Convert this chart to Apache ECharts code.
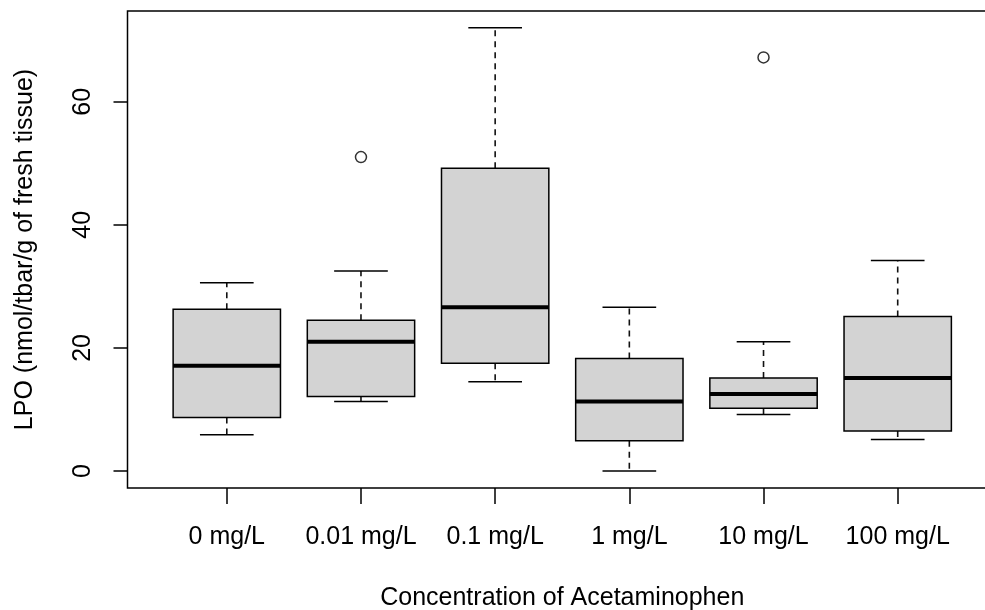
<!DOCTYPE html>
<html>
<head>
<meta charset="utf-8">
<script src="https://cdn.jsdelivr.net/npm/echarts@6/dist/echarts.min.js"></script>
<style>
  html, body { margin: 0; padding: 0; background: #fff; }
  #chart { width: 985px; height: 610px; }
</style>
</head>
<body>
<div id="chart"></div>
<script>
// LPO per acetaminophen concentration
const categories = ['0 mg/L', '0.01 mg/L', '0.1 mg/L', '1 mg/L', '10 mg/L', '100 mg/L'];
const lowerWhisker = [5.9, 11.3, 14.5, 0.0, 9.2, 5.1];
const lowerQuartile = [8.7, 12.1, 17.5, 4.9, 10.2, 6.5];
const medians = [17.1, 21.0, 26.6, 11.3, 12.5, 15.1];
const upperQuartile = [26.3, 24.5, 49.2, 18.3, 15.1, 25.1];
const upperWhisker = [30.6, 32.5, 72.0, 26.6, 21.0, 34.2];
const outlierGroup = [2, 5];
const outlierValue = [51.0, 67.2];
const yTicks = [0, 20, 40, 60];
const xTicks = [1, 2, 3, 4, 5, 6];

const boxData = categories.map((_, i) => [
  i + 1, lowerWhisker[i], lowerQuartile[i], medians[i], upperQuartile[i], upperWhisker[i]
]);
const outlierData = outlierGroup.map((g, i) => [g, outlierValue[i]]);

const FONT = '"Liberation Sans", Arial, sans-serif';
const chart = echarts.init(document.getElementById('chart'));

const renderBox = (params, api) => {
  const x = api.value(0);
  const lo = api.value(1), q1 = api.value(2), med = api.value(3), q3 = api.value(4), hi = api.value(5);
  const c = (v) => api.coord([x, v]);
  const halfBox = api.size([0.4, 0])[0];
  const halfCap = api.size([0.2, 0])[0];
  const pLo = c(lo), pQ1 = c(q1), pMed = c(med), pQ3 = c(q3), pHi = c(hi);
  const cx = pMed[0];
  const dashed = { stroke: '#111', lineWidth: 1.6, lineDash: [6, 5] };
  const solid = { stroke: '#000', lineWidth: 1.5 };
  return {
    type: 'group',
    children: [
      { type: 'line', shape: { x1: cx, y1: pQ3[1], x2: cx, y2: pHi[1] }, style: dashed },
      { type: 'line', shape: { x1: cx, y1: pQ1[1], x2: cx, y2: pLo[1] }, style: dashed },
      { type: 'line', shape: { x1: cx - halfCap, y1: pHi[1], x2: cx + halfCap, y2: pHi[1] }, style: solid },
      { type: 'line', shape: { x1: cx - halfCap, y1: pLo[1], x2: cx + halfCap, y2: pLo[1] }, style: solid },
      {
        type: 'rect',
        shape: { x: cx - halfBox, y: pQ3[1], width: halfBox * 2, height: pQ1[1] - pQ3[1] },
        style: { fill: '#d3d3d3', stroke: '#000', lineWidth: 1.5 }
      },
      { type: 'line', shape: { x1: cx - halfBox, y1: pMed[1], x2: cx + halfBox, y2: pMed[1] }, style: { stroke: '#000', lineWidth: 4 } }
    ]
  };
};

chart.setOption({
  animation: false,
  backgroundColor: '#fff',
  grid: {
    left: 127.5, top: 11, width: 869.5, height: 477,
    outerBoundsMode: 'none',
    containLabel: false,
    show: true, borderColor: '#000', borderWidth: 1.5
  },
  xAxis: {
    type: 'value',
    min: 0.26,
    max: 6.74,
    name: 'Concentration of Acetaminophen',
    nameLocation: 'middle',
    nameGap: 98,
    nameTextStyle: { color: '#000', fontSize: 25, fontFamily: FONT },
    axisLine: { show: false, onZero: false },
    splitLine: { show: false },
    axisTick: { show: true, length: 16, customValues: xTicks, lineStyle: { color: '#000', width: 1.5 } },
    axisLabel: {
      customValues: xTicks,
      formatter: (v) => categories[Math.round(v) - 1] || '',
      margin: 37,
      color: '#000',
      fontSize: 25,
      fontFamily: FONT
    }
  },
  yAxis: {
    type: 'value',
    min: -2.76,
    max: 74.74,
    name: 'LPO (nmol/tbar/g of fresh tissue)',
    nameLocation: 'middle',
    nameRotate: 90,
    nameGap: 90,
    nameTextStyle: { color: '#000', fontSize: 25, fontFamily: FONT },
    axisLine: { show: false },
    splitLine: { show: false },
    axisTick: { show: true, length: 14, customValues: yTicks, lineStyle: { color: '#000', width: 1.5 } },
    axisLabel: {
      customValues: yTicks,
      rotate: 90,
      margin: 32,
      color: '#000',
      fontSize: 25,
      fontFamily: FONT
    }
  },
  series: [
    {
      type: 'custom',
      renderItem: renderBox,
      encode: { x: 0, y: [1, 2, 3, 4, 5] },
      data: boxData,
      z: 2
    },
    {
      type: 'scatter',
      data: outlierData,
      symbol: 'circle',
      symbolSize: 11,
      itemStyle: { color: '#fff', borderColor: '#000', borderWidth: 1.5 },
      z: 3
    }
  ]
});
</script>
</body>
</html>
